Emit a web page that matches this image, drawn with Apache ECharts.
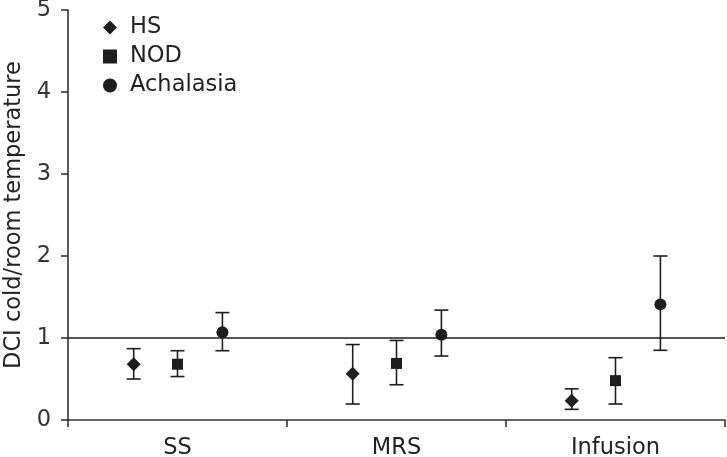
<!DOCTYPE html>
<html>
<head>
<meta charset="utf-8">
<script src="https://cdn.jsdelivr.net/npm/echarts@6/dist/echarts.min.js"></script>
<style>html,body{margin:0;padding:0;background:#fff}#c{width:727px;height:457px}</style>
</head>
<body>
<div id="c"></div>
<script>
const categories = ['SS', 'MRS', 'Infusion'];
const seriesNames = ['HS', 'NOD', 'Achalasia'];
const hsMean = [0.68, 0.565, 0.235];
const hsHigh = [0.87, 0.92, 0.38];
const hsLow = [0.50, 0.195, 0.13];
const nodMean = [0.68, 0.69, 0.48];
const nodHigh = [0.845, 0.97, 0.76];
const nodLow = [0.53, 0.43, 0.195];
const achMean = [1.07, 1.04, 1.41];
const achHigh = [1.31, 1.34, 2.0];
const achLow = [0.845, 0.78, 0.85];
const yTicks = [0, 1, 2, 3, 4, 5];
const refValue = 1;

const INK = '#1e1e1e';

function buildData(mean, high, low) {
  return categories.map((c, i) => [i, mean[i], high[i], low[i]]);
}

function makeRender(offsetFrac, shape) {
  return function (params, api) {
    const ci = api.value(0);
    const c = api.coord([ci, api.value(1)]);
    const hi = api.coord([ci, api.value(2)]);
    const lo = api.coord([ci, api.value(3)]);
    const band = api.size([1, 0])[0];
    const x = c[0] + offsetFrac * band;
    const cap = 7;
    const ls = { stroke: INK, lineWidth: 1.6 };
    const children = [
      { type: 'line', shape: { x1: x, y1: hi[1], x2: x, y2: lo[1] }, style: ls },
      { type: 'line', shape: { x1: x - cap, y1: hi[1], x2: x + cap, y2: hi[1] }, style: ls },
      { type: 'line', shape: { x1: x - cap, y1: lo[1], x2: x + cap, y2: lo[1] }, style: ls }
    ];
    const y = c[1];
    if (shape === 'diamond') {
      const r = 7;
      children.push({ type: 'polygon', shape: { points: [[x, y - r], [x + r, y], [x, y + r], [x - r, y]] }, style: { fill: INK } });
    } else if (shape === 'rect') {
      const h = 5.5;
      children.push({ type: 'rect', shape: { x: x - h, y: y - h, width: 2 * h, height: 2 * h }, style: { fill: INK } });
    } else {
      children.push({ type: 'circle', shape: { cx: x, cy: y, r: 6 }, style: { fill: INK } });
    }
    return { type: 'group', children };
  };
}

const chart = echarts.init(document.getElementById('c'), null, { renderer: 'canvas' });
const font = 'DejaVu Sans, sans-serif';
const FS = 22.5;
chart.setOption({
  animation: false,
  backgroundColor: '#fff',
  grid: { left: 68, right: 2, top: 10, bottom: 37, containLabel: false, outerBoundsMode: 'none' },
  legend: {
    orient: 'vertical',
    left: 103,
    top: 16,
    padding: 0,
    itemWidth: 14,
    itemHeight: 14,
    itemGap: 6,
    textStyle: { fontSize: FS, lineHeight: 23, color: '#222', fontFamily: font, padding: [0, 0, 0, 8] },
    data: [
      { name: seriesNames[0], icon: 'diamond' },
      { name: seriesNames[1], icon: 'rect' },
      { name: seriesNames[2], icon: 'circle' }
    ]
  },
  xAxis: {
    type: 'category',
    data: categories,
    boundaryGap: true,
    axisLine: { lineStyle: { color: '#333', width: 1.6 } },
    axisTick: { show: true, length: 7, lineStyle: { color: '#333', width: 1.6 } },
    axisLabel: { fontSize: FS, color: '#222', fontFamily: font, margin: 17 },
    splitLine: { show: false }
  },
  yAxis: {
    type: 'value',
    min: yTicks[0],
    max: yTicks[yTicks.length - 1],
    interval: 1,
    name: 'DCI cold/room temperature',
    nameLocation: 'middle',
    nameGap: 42,
    nameTextStyle: { fontSize: FS, color: '#222', fontFamily: font },
    axisLine: { show: true, lineStyle: { color: '#333', width: 1.6 } },
    axisTick: { show: true, inside: false, length: 7, lineStyle: { color: '#333', width: 1.6 } },
    axisLabel: { fontSize: FS, color: '#333', fontFamily: font, margin: 17 },
    splitLine: { show: false }
  },
  series: [
    {
      name: seriesNames[0], type: 'custom', itemStyle: { color: INK },
      renderItem: makeRender(-0.2, 'diamond'),
      data: buildData(hsMean, hsHigh, hsLow),
      encode: { x: 0, y: [1, 2, 3] },
      markLine: {
        silent: true, symbol: 'none', label: { show: false },
        lineStyle: { color: INK, width: 1.6, type: 'solid' },
        data: [{ yAxis: refValue }]
      }
    },
    {
      name: seriesNames[1], type: 'custom', itemStyle: { color: INK },
      renderItem: makeRender(0, 'rect'),
      data: buildData(nodMean, nodHigh, nodLow),
      encode: { x: 0, y: [1, 2, 3] }
    },
    {
      name: seriesNames[2], type: 'custom', itemStyle: { color: INK },
      renderItem: makeRender(0.205, 'circle'),
      data: buildData(achMean, achHigh, achLow),
      encode: { x: 0, y: [1, 2, 3] }
    }
  ]
});
</script>
</body>
</html>
